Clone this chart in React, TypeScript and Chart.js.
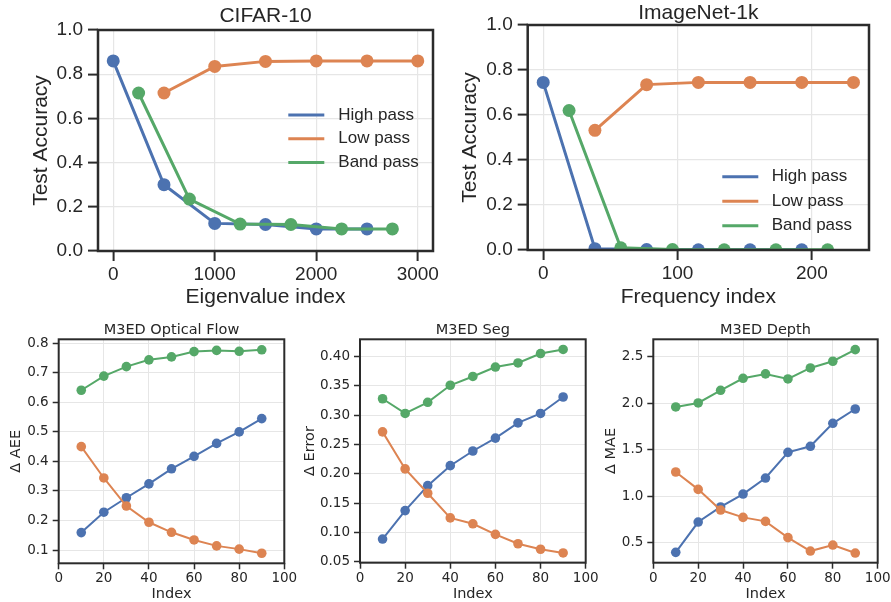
import React, { useEffect, useRef } from 'react';
import { Chart, registerables } from 'chart.js';

Chart.register(...registerables);

// ---------- colours ----------
const BLUE = '#4C72B0';
const ORANGE = '#DD8452';
const GREEN = '#55A868';
const TEXT = '#262626';
const SPINE = '#2b2b2b';
const GRID = '#e6e6e6';

// ---------- CIFAR-10 ----------
const CIFAR_HIGH_X = [0, 500, 1000, 1500, 2000, 2500];
const CIFAR_HIGH_Y = [0.86, 0.30, 0.125, 0.12, 0.10, 0.10];
const CIFAR_LOW_X = [500, 1000, 1500, 2000, 2500, 3000];
const CIFAR_LOW_Y = [0.715, 0.835, 0.858, 0.86, 0.86, 0.86];
const CIFAR_BAND_X = [250, 750, 1250, 1750, 2250, 2750];
const CIFAR_BAND_Y = [0.715, 0.235, 0.122, 0.12, 0.10, 0.10];
const CIFAR_X_TICKS = [0, 1000, 2000, 3000];

// ---------- ImageNet-1k ----------
const IMNET_HIGH_X = [0, 38.5, 77, 115.5, 154, 192.5];
const IMNET_HIGH_Y = [0.745, 0.006, 0.002, 0.001, 0.001, 0.001];
const IMNET_LOW_X = [38.5, 77, 115.5, 154, 192.5, 231];
const IMNET_LOW_Y = [0.532, 0.735, 0.745, 0.745, 0.745, 0.745];
const IMNET_BAND_X = [19.25, 57.75, 96.25, 134.75, 173.25, 211.75];
const IMNET_BAND_Y = [0.62, 0.01, 0.002, 0.001, 0.001, 0.001];
const IMNET_X_TICKS = [0, 100, 200];

const ACC_Y_TICKS = [0, 0.2, 0.4, 0.6, 0.8, 1.0];

// ---------- M3ED ----------
const M3ED_INDEX = [10, 20, 30, 40, 50, 60, 70, 80, 90];
const M3ED_X_TICKS = [0, 20, 40, 60, 80, 100];

const FLOW_HIGH = [0.159, 0.228, 0.277, 0.324, 0.375, 0.417, 0.461, 0.5, 0.545];
const FLOW_LOW = [0.45, 0.344, 0.249, 0.194, 0.16, 0.134, 0.114, 0.103, 0.089];
const FLOW_BAND = [0.641, 0.689, 0.721, 0.744, 0.754, 0.772, 0.776, 0.773, 0.778];
const FLOW_Y_TICKS = [0.1, 0.2, 0.3, 0.4, 0.5, 0.6, 0.7, 0.8];

const SEG_HIGH = [0.089, 0.1375, 0.18, 0.214, 0.239, 0.261, 0.287, 0.303, 0.331];
const SEG_LOW = [0.2716, 0.2085, 0.167, 0.125, 0.115, 0.097, 0.081, 0.0716, 0.0653];
const SEG_BAND = [0.328, 0.303, 0.322, 0.351, 0.366, 0.382, 0.389, 0.405, 0.412];
const SEG_Y_TICKS = [0.05, 0.1, 0.15, 0.2, 0.25, 0.3, 0.35, 0.4];

const DEPTH_HIGH = [0.396, 0.722, 0.884, 1.023, 1.195, 1.471, 1.536, 1.783, 1.937];
const DEPTH_LOW = [1.26, 1.073, 0.851, 0.772, 0.729, 0.554, 0.41, 0.475, 0.389];
const DEPTH_BAND = [1.959, 2.002, 2.138, 2.267, 2.314, 2.26, 2.378, 2.45, 2.575];
const DEPTH_Y_TICKS = [0.5, 1.0, 1.5, 2.0, 2.5];

const SERIES_LABELS = ['High pass', 'Low pass', 'Band pass'];

// ---------- plugins ----------
const framePlugin = {
  id: 'frame',
  afterDatasetsDraw(chart: any, _args: any, opts: any) {
    const { ctx, chartArea } = chart;
    const { left, right, top, bottom } = chartArea;
    ctx.save();
    ctx.strokeStyle = opts.color;
    ctx.lineWidth = opts.width;
    ctx.strokeRect(left, top, right - left, bottom - top);
    ctx.restore();
  },
};

const inlineLegendPlugin = {
  id: 'inlineLegend',
  afterDatasetsDraw(chart: any, _args: any, opts: any) {
    if (!opts || !opts.show) return;
    const { ctx, chartArea } = chart;
    const x0 = chartArea.right - opts.fromRight;
    ctx.save();
    ctx.font = `${opts.fontSize}px ${opts.family}`;
    ctx.textBaseline = 'middle';
    ctx.textAlign = 'left';
    chart.data.datasets.forEach((ds: any, i: number) => {
      const y = chartArea.top + opts.firstRow + i * opts.spacing;
      ctx.strokeStyle = ds.borderColor;
      ctx.lineWidth = opts.lineWidth;
      ctx.lineCap = 'butt';
      ctx.beginPath();
      ctx.moveTo(x0, y);
      ctx.lineTo(x0 + opts.lineLength, y);
      ctx.stroke();
      ctx.fillStyle = TEXT;
      ctx.fillText(ds.label, x0 + opts.textOffset, y);
    });
    ctx.restore();
  },
};

type Series = { label: string; color: string; x: number[]; y: number[] };

type PanelSpec = {
  key: string;
  cx: number; cy: number; cw: number; ch: number;
  yAxisWidth: number; xAxisHeight: number; padRight: number;
  family: string;
  title: string; titleSize: number; titlePadTop: number; titlePadBottom: number;
  xLabel: string; yLabel: string; labelSize: number;
  xTitlePadBottom: number; yTitlePadTop: number;
  tickSize: number; tickLength: number; tickWidth: number; xTickPad: number; yTickPad: number;
  xMin: number; xMax: number; xTicks: number[];
  yMin: number; yMax: number; yTicks: number[]; yDecimals: number;
  spineWidth: number; gridWidth: number; lineWidth: number; pointRadius: number;
  series: Series[];
  legend?: any;
};

function buildConfig(s: PanelSpec): any {
  const font = (size: number) => ({ family: s.family, size, lineHeight: 1 });
  return {
    type: 'line',
    data: {
      datasets: s.series.map((se, i) => ({
        label: se.label,
        data: se.x.map((x, j) => ({ x, y: se.y[j] })),
        borderColor: se.color,
        backgroundColor: se.color,
        pointBackgroundColor: se.color,
        pointBorderColor: se.color,
        pointBorderWidth: 0,
        pointRadius: s.pointRadius,
        borderWidth: s.lineWidth,
        tension: 0,
        fill: false,
        clip: 0,
        order: -i,
      })),
    },
    options: {
      responsive: false,
      animation: false,
      devicePixelRatio: 1,
      layout: { padding: { left: 0, top: 0, right: s.padRight, bottom: 0 } },
      plugins: {
        legend: { display: false },
        tooltip: { enabled: false },
        title: {
          display: true,
          text: s.title,
          fullSize: false,
          color: TEXT,
          font: { ...font(s.titleSize), weight: 'normal' },
          padding: { top: s.titlePadTop, bottom: s.titlePadBottom },
        },
        frame: { color: SPINE, width: s.spineWidth },
        inlineLegend: s.legend ? { show: true, ...s.legend } : { show: false },
      },
      scales: {
        x: {
          type: 'linear',
          position: 'bottom',
          min: s.xMin,
          max: s.xMax,
          bounds: 'data',
          afterBuildTicks: (sc: any) => {
            sc.ticks = s.xTicks.map((v) => ({ value: v }));
          },
          afterFit: (sc: any) => {
            sc.height = s.xAxisHeight;
          },
          ticks: {
            autoSkip: false,
            maxRotation: 0,
            minRotation: 0,
            color: TEXT,
            font: font(s.tickSize),
            padding: s.xTickPad,
            callback: (v: any) => String(v),
          },
          grid: {
            color: GRID,
            lineWidth: s.gridWidth,
            drawTicks: true,
            tickColor: SPINE,
            tickWidth: s.tickWidth,
            tickLength: s.tickLength,
          },
          border: { display: false },
          title: {
            display: true,
            text: s.xLabel,
            color: TEXT,
            font: font(s.labelSize),
            padding: { top: 0, bottom: s.xTitlePadBottom },
          },
        },
        y: {
          type: 'linear',
          position: 'left',
          min: s.yMin,
          max: s.yMax,
          bounds: 'data',
          afterBuildTicks: (sc: any) => {
            sc.ticks = s.yTicks.map((v) => ({ value: v }));
          },
          afterFit: (sc: any) => {
            sc.width = s.yAxisWidth;
          },
          ticks: {
            autoSkip: false,
            color: TEXT,
            font: font(s.tickSize),
            padding: s.yTickPad,
            callback: (v: any) => Number(v).toFixed(s.yDecimals),
          },
          grid: {
            color: GRID,
            lineWidth: s.gridWidth,
            drawTicks: true,
            tickColor: SPINE,
            tickWidth: s.tickWidth,
            tickLength: s.tickLength,
          },
          border: { display: false },
          title: {
            display: true,
            text: s.yLabel,
            color: TEXT,
            font: font(s.labelSize),
            padding: { top: s.yTitlePadTop, bottom: 0 },
          },
        },
      },
    },
    plugins: [framePlugin, inlineLegendPlugin],
  };
}

const SANS_TOP = "'Liberation Sans', Arial, sans-serif";
const SANS_BOTTOM = "'DejaVu Sans', sans-serif";

const topCommon = {
  family: SANS_TOP,
  titleSize: 21,
  labelSize: 21,
  tickSize: 19,
  tickLength: 10,
  tickWidth: 2,
  xTickPad: 4,
  yTickPad: 5,
  yMin: 0,
  yMax: 1,
  yTicks: ACC_Y_TICKS,
  yDecimals: 1,
  yLabel: 'Test Accuracy',
  spineWidth: 2.5,
  gridWidth: 1.2,
  lineWidth: 3,
  pointRadius: 6.5,
};

const bottomCommon = {
  family: SANS_BOTTOM,
  titleSize: 14.5,
  labelSize: 14.5,
  tickSize: 13.5,
  tickLength: 6,
  tickWidth: 1.5,
  xTickPad: 2.75,
  yTickPad: 4,
  xLabel: 'Index',
  xMin: 0,
  xMax: 100,
  xTicks: M3ED_X_TICKS,
  spineWidth: 2,
  gridWidth: 1,
  lineWidth: 2,
  pointRadius: 4.8,
  titlePadTop: 11.25,
  titlePadBottom: 1.55,
  xTitlePadBottom: 0.5,
};

const m3edSeries = (high: number[], low: number[], band: number[]): Series[] => [
  { label: SERIES_LABELS[0], color: BLUE, x: M3ED_INDEX, y: high },
  { label: SERIES_LABELS[1], color: ORANGE, x: M3ED_INDEX, y: low },
  { label: SERIES_LABELS[2], color: GREEN, x: M3ED_INDEX, y: band },
];

const PANELS: PanelSpec[] = [
  {
    ...topCommon,
    key: 'cifar',
    cx: 0, cy: 0, cw: 460, ch: 312,
    yAxisWidth: 98, xAxisHeight: 61, padRight: 27,
    title: 'CIFAR-10', titlePadTop: 6.2, titlePadBottom: 2.8,
    xLabel: 'Eigenvalue index',
    xTitlePadBottom: 4, yTitlePadTop: 31.2,
    xMin: -150, xMax: 3150, xTicks: CIFAR_X_TICKS,
    series: [
      { label: SERIES_LABELS[0], color: BLUE, x: CIFAR_HIGH_X, y: CIFAR_HIGH_Y },
      { label: SERIES_LABELS[1], color: ORANGE, x: CIFAR_LOW_X, y: CIFAR_LOW_Y },
      { label: SERIES_LABELS[2], color: GREEN, x: CIFAR_BAND_X, y: CIFAR_BAND_Y },
    ],
    legend: {
      family: SANS_TOP, fontSize: 17, fromRight: 144.7, firstRow: 85, spacing: 23.7,
      lineLength: 36, textOffset: 50, lineWidth: 3,
    },
  } as PanelSpec,
  {
    ...topCommon,
    key: 'imagenet',
    cx: 445, cy: 0, cw: 446, ch: 312,
    yAxisWidth: 82.7, xAxisHeight: 62, padRight: 22,
    title: 'ImageNet-1k', titlePadTop: 2.3, titlePadBottom: 1.7,
    xLabel: 'Frequency index',
    xTitlePadBottom: 4.5, yTitlePadTop: 14.5,
    xMin: -11.55, xMax: 242.55, xTicks: IMNET_X_TICKS,
    series: [
      { label: SERIES_LABELS[0], color: BLUE, x: IMNET_HIGH_X, y: IMNET_HIGH_Y },
      { label: SERIES_LABELS[1], color: ORANGE, x: IMNET_LOW_X, y: IMNET_LOW_Y },
      { label: SERIES_LABELS[2], color: GREEN, x: IMNET_BAND_X, y: IMNET_BAND_Y },
    ],
    legend: {
      family: SANS_TOP, fontSize: 17, fromRight: 146.7, firstRow: 151.7, spacing: 24.5,
      lineLength: 36, textOffset: 49.4, lineWidth: 3,
    },
  } as PanelSpec,
  {
    ...bottomCommon,
    key: 'flow',
    cx: 0, cy: 312, cw: 304, ch: 290,
    yAxisWidth: 58.7, xAxisHeight: 38.7, padRight: 19.7,
    title: 'M3ED Optical Flow',
    yLabel: 'Δ AEE', yTitlePadTop: 9.45,
    yMin: 0.055, yMax: 0.8136, yTicks: FLOW_Y_TICKS, yDecimals: 1,
    series: m3edSeries(FLOW_HIGH, FLOW_LOW, FLOW_BAND),
  } as PanelSpec,
  {
    ...bottomCommon,
    key: 'seg',
    cx: 297, cy: 312, cw: 310, ch: 290,
    yAxisWidth: 63, xAxisHeight: 39.3, padRight: 21.3,
    title: 'M3ED Seg',
    yLabel: 'Δ Error', yTitlePadTop: 6.05,
    yMin: 0.0487, yMax: 0.4293, yTicks: SEG_Y_TICKS, yDecimals: 2,
    series: m3edSeries(SEG_HIGH, SEG_LOW, SEG_BAND),
  } as PanelSpec,
  {
    ...bottomCommon,
    key: 'depth',
    cx: 594, cy: 312, cw: 310, ch: 290,
    yAxisWidth: 59.3, xAxisHeight: 39.3, padRight: 26.3,
    title: 'M3ED Depth',
    yLabel: 'Δ MAE', yTitlePadTop: 9.55,
    yMin: 0.285, yMax: 2.686, yTicks: DEPTH_Y_TICKS, yDecimals: 1,
    series: m3edSeries(DEPTH_HIGH, DEPTH_LOW, DEPTH_BAND),
  } as PanelSpec,
];

function Panel({ spec }: { spec: PanelSpec }) {
  const ref = useRef<HTMLCanvasElement | null>(null);
  useEffect(() => {
    if (!ref.current) return;
    const chart = new Chart(ref.current, buildConfig(spec));
    return () => chart.destroy();
  }, [spec]);
  return (
    <canvas
      ref={ref}
      width={spec.cw}
      height={spec.ch}
      style={{
        position: 'absolute',
        left: spec.cx,
        top: spec.cy,
        width: spec.cw,
        height: spec.ch,
      }}
    />
  );
}

export default function App() {
  return (
    <div
      style={{
        position: 'absolute',
        left: 0,
        top: 0,
        width: 891,
        height: 602,
        overflow: 'hidden',
        background: '#ffffff',
      }}
    >
      {PANELS.map((p) => (
        <Panel key={p.key} spec={p} />
      ))}
    </div>
  );
}
